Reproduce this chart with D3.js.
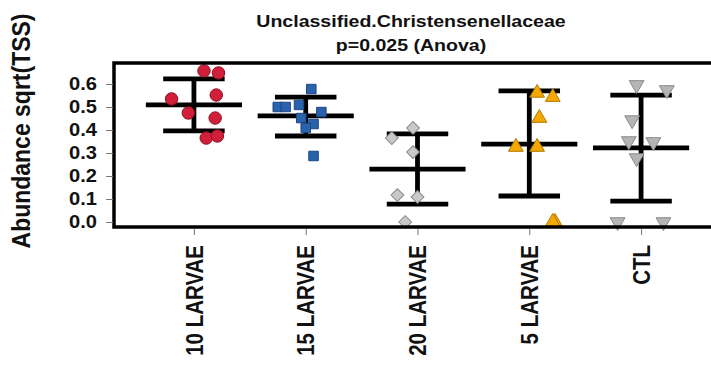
<!DOCTYPE html>
<html>
<head>
<meta charset="utf-8">
<script src="https://cdn.jsdelivr.net/npm/d3@7"></script>
<style>
    body { margin: 0; background: #fff; }
    text { font-family: "Liberation Sans", Arial, sans-serif; font-weight: bold; fill: #111; }
</style>
</head>
<body>
<div id="chart"></div>
<script>
// values
const categories = ["10 LARVAE", "15 LARVAE", "20 LARVAE", "5 LARVAE", "CTL"];
const meanValues = [0.509, 0.461, 0.230, 0.339, 0.322];
const upperValues = [0.622, 0.543, 0.383, 0.570, 0.552];
const lowerValues = [0.396, 0.374, 0.078, 0.113, 0.091];
const yTicks = [0, 0.1, 0.2, 0.3, 0.4, 0.5, 0.6];

const pointsLarvae10 = [0.657, 0.648, 0.535, 0.474, 0.552, 0.452, 0.365, 0.374];
const jitterLarvae10 = [0.09, 0.22, -0.20, -0.05, 0.20, 0.19, 0.11, 0.21];
const pointsLarvae15 = [0.578, 0.500, 0.500, 0.509, 0.452, 0.478, 0.426, 0.409, 0.287];
const jitterLarvae15 = [0.05, -0.25, -0.18, -0.06, -0.04, 0.14, 0.07, 0.00, 0.07];
const pointsLarvae20 = [0.409, 0.365, 0.304, 0.117, 0.109, 0.000];
const jitterLarvae20 = [-0.04, -0.23, -0.04, -0.18, 0.00, -0.11];
const pointsLarvae5 = [0.561, 0.543, 0.452, 0.326, 0.326, 0.000, 0.000];
const jitterLarvae5 = [0.07, 0.21, 0.09, -0.12, 0.07, 0.23, 0.21];
const pointsCtl = [0.596, 0.574, 0.443, 0.352, 0.348, 0.278, 0.000, 0.000];
const jitterCtl = [-0.04, 0.23, -0.08, -0.11, 0.11, -0.04, -0.21, 0.20];

const width = 711;
const height = 378;
const box = { left: 114, top: 63, right: 721, bottom: 227 };
const SX = 1.15; // the picture is a bit wider than tall, stretch text to match

const groups = [
    { values: pointsLarvae10, jitter: jitterLarvae10, shape: d3.symbolCircle, size: 122, rot: 0, fill: "#d11f3a", stroke: "#8e1020" },
    { values: pointsLarvae15, jitter: jitterLarvae15, shape: d3.symbolSquare, size: 90, rot: 0, fill: "#2a63ad", stroke: "#1b4580" },
    { values: pointsLarvae20, jitter: jitterLarvae20, shape: d3.symbolSquare, size: 82, rot: 45, fill: "#c9c9c9", stroke: "#8a8a8a" },
    { values: pointsLarvae5, jitter: jitterLarvae5, shape: d3.symbolTriangle, size: 95, rot: 0, fill: "#f4a800", stroke: "#b07a00" },
    { values: pointsCtl, jitter: jitterCtl, shape: d3.symbolTriangle, size: 95, rot: 180, fill: "#b5b5b5", stroke: "#8a8a8a" }
];

const svg = d3.select("#chart")
    .append("svg")
    .attr("width", width)
    .attr("height", height);

const x = d3.scaleLinear().domain([0.285, 5.715]).range([box.left, box.right]);
const y = d3.scaleLinear().domain([0, 0.6]).range([222, 84]);

// title
const title = svg.append("g").attr("transform", `translate(411,0) scale(${SX},1)`);
title.append("text").attr("y", 27).attr("text-anchor", "middle").style("font-size", "17px")
    .text("Unclassified.Christensenellaceae");
title.append("text").attr("y", 51).attr("text-anchor", "middle").style("font-size", "17px")
    .text("p=0.025 (Anova)");

// y axis label
svg.append("text")
    .attr("transform", `translate(30,131) scale(${SX},1) rotate(-90)`)
    .attr("text-anchor", "middle")
    .style("font-size", "23px")
    .text("Abundance sqrt(TSS)");

// error bars (mean +/- sd)
const bars = svg.append("g").attr("stroke", "#000").attr("stroke-width", 4.8);
categories.forEach((c, i) => {
    const cx = x(i + 1);
    bars.append("line").attr("x1", cx).attr("x2", cx).attr("y1", y(upperValues[i])).attr("y2", y(lowerValues[i]));
    bars.append("line").attr("x1", x(i + 1 - 0.275)).attr("x2", x(i + 1 + 0.275)).attr("y1", y(upperValues[i])).attr("y2", y(upperValues[i]));
    bars.append("line").attr("x1", x(i + 1 - 0.275)).attr("x2", x(i + 1 + 0.275)).attr("y1", y(lowerValues[i])).attr("y2", y(lowerValues[i]));
    bars.append("line").attr("x1", x(i + 1 - 0.43)).attr("x2", x(i + 1 + 0.43)).attr("y1", y(meanValues[i])).attr("y2", y(meanValues[i]));
});

// jittered points
groups.forEach((grp, i) => {
    svg.append("g").selectAll("path")
        .data(grp.values)
        .enter().append("path")
        .attr("d", d3.symbol().type(grp.shape).size(grp.size))
        .attr("transform", (d, j) => `translate(${x(i + 1 + grp.jitter[j])},${y(d)}) rotate(${grp.rot})`)
        .attr("fill", grp.fill)
        .attr("stroke", grp.stroke)
        .attr("stroke-width", 1);
});

// plot frame
svg.append("rect")
    .attr("x", box.left).attr("y", box.top)
    .attr("width", box.right - box.left).attr("height", box.bottom - box.top)
    .attr("fill", "none").attr("stroke", "#000").attr("stroke-width", 3.5);

// y axis
const yAxis = svg.append("g")
    .attr("transform", `translate(${box.left - 1},0)`)
    .call(d3.axisLeft(y).tickValues(yTicks).tickFormat(d3.format(".1f")).tickSize(7).tickSizeOuter(0));
yAxis.select(".domain").remove();
yAxis.selectAll("line").attr("stroke", "#777");
yAxis.selectAll("text")
    .attr("x", -16 / SX)
    .attr("transform", `scale(${SX},1)`)
    .style("font-size", "17.5px");

// x axis
const xAxis = svg.append("g")
    .attr("transform", `translate(0,${box.bottom + 2})`)
    .call(d3.axisBottom(x).tickValues([1, 2, 3, 4, 5]).tickFormat((d) => categories[d - 1]).tickSize(6).tickSizeOuter(0));
xAxis.select(".domain").remove();
xAxis.selectAll("line").attr("stroke", "#777");
xAxis.selectAll("text")
    .attr("x", 0).attr("y", 0).attr("dy", "0.35em")
    .attr("text-anchor", "end")
    .attr("transform", `translate(0,16) scale(${SX},1) rotate(-90)`)
    .style("font-size", "20.5px");
</script>
</body>
</html>
